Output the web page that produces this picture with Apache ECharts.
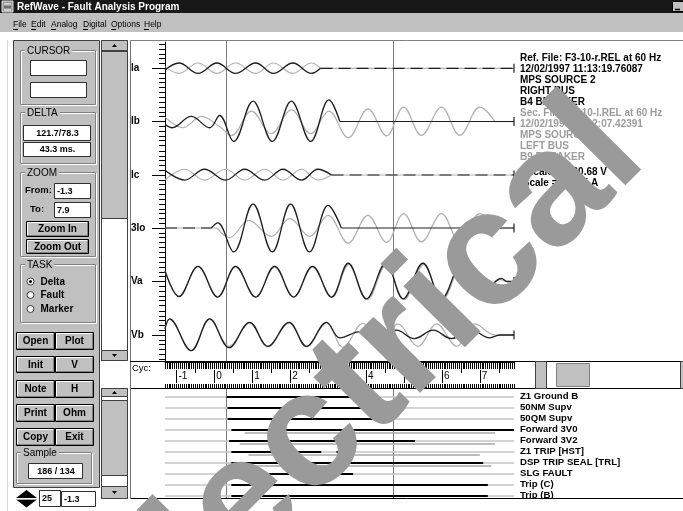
<!DOCTYPE html>
<html><head><meta charset="utf-8">
<script src="https://cdn.jsdelivr.net/npm/echarts@6/dist/echarts.min.js"></script>
<style>html,body{margin:0;padding:0;background:#fff;overflow:hidden}#c{width:683px;height:511px}</style>
</head><body><div id="c"></div>
<script>
// ---------------- DATA (x in cycles, y in channel scale units) ----------------
const cycleTicks = [-1, 0, 1, 2, 3, 4, 5, 6, 7];
const halfCycleTicks = [-0.5, 0.5, 1.5, 2.5, 3.5, 4.5, 5.5, 6.5, 7.5];
const channelNames = ['Ia', 'Ib', 'Ic', '3Io', 'Va', 'Vb'];
const cursorCycles = [0.32, 4.71];

const IaRef = [[-1.30,-0.07],[-0.93,0.22],[-0.43,-0.21],[0.07,0.22],[0.56,-0.21],[1.09,0.22],[1.56,-0.21],[2.07,0.22],[2.56,-0.21],[2.80,0]];
const IaSec = [[-1.30,0.07],[-0.93,-0.21],[-0.43,0.22],[0.07,-0.21],[0.56,0.22],[1.09,-0.21],[1.56,0.22],[2.07,-0.21],[2.56,0.22],[2.80,0]];
const IaRefFlat = [[2.80,0],[7.90,0]];
const IaSecFlat = [[2.80,0],[7.90,0]];

const IbRef = [[-1.30,-0.12],[-1.11,-0.26],[-0.61,0.21],[-0.12,-0.26],[0.14,0.25],[0.51,-0.83],[1.02,0.85],[1.53,-0.83],[2.03,0.85],[2.54,-0.83],[3.02,0.90],[3.31,0]];
const IbSec = [[-1.30,0.18],[-0.83,-0.26],[-0.34,0.21],[0.16,-0.24],[0.45,-0.58],[0.98,0.43],[1.50,-0.51],[2.03,0.49],[2.54,-0.51],[3.02,0.43],[3.53,-0.68],[4.05,0.53],[4.54,-0.60],[4.99,0.60],[5.46,-0.58],[5.99,0.60],[6.47,-0.58],[7.00,0.60],[7.40,0]];
const IbRefFlat = [[3.31,0],[7.90,0]];
const IbSecFlat = [[7.40,0],[7.90,0]];

const IcRef = [[-1.30,0.20],[-0.78,-0.21],[-0.26,0.24],[0.30,-0.21],[0.80,0.24],[1.33,-0.21],[1.81,0.24],[2.30,-0.21],[2.73,0.24],[3.09,0]];
const IcSec = [[-1.30,-0.20],[-0.78,0.24],[-0.26,-0.21],[0.30,0.24],[0.80,-0.21],[1.33,0.24],[1.81,-0.21],[2.30,0.24],[2.73,-0.21],[3.09,0]];
const IcRefFlat = [[3.09,0],[7.90,0]];
const IcSecFlat = [[3.09,0],[7.90,0]];

const Io3Ref = [[-0.08,0],[0.09,0.21],[0.51,-1.00],[1.02,1.00],[1.53,-1.00],[2.01,1.00],[2.51,-1.00],[3.00,0.94],[3.35,0]];
const Io3Sec = [[0.07,0],[0.40,-0.40],[0.91,0.32],[1.50,-0.35],[1.99,0.39],[2.51,-0.35],[3.00,0.53],[3.53,-0.63],[4.05,0.53],[4.54,-0.60],[4.99,0.60],[5.46,-0.58],[5.99,0.60],[6.47,-0.58],[7.00,0.60],[7.40,0]];
const Io3RefFlatPre = [[-1.30,0],[-0.08,0]];
const Io3RefFlat = [[3.35,0],[7.90,0]];
const Io3SecFlatPre = [[-1.30,0],[0.07,0]];
const Io3SecFlat = [[7.40,0],[7.90,0]];

const VaRef = [[-1.30,0.45],[-0.93,-0.63],[-0.43,0.63],[0.09,-0.65],[0.56,0.63],[1.09,-0.65],[1.59,0.63],[2.09,-0.65],[2.59,0.63],[3.09,-0.65],[3.53,0.76],[4.01,-0.72],[4.52,0.76],[4.98,-0.72],[5.50,0.76],[5.99,-0.72],[6.52,0.76],[7.00,-0.72],[7.57,0.13],[7.72,0],[7.90,0]];
const VaSec = [[-1.30,0.42],[-0.93,-0.62],[-0.43,0.62],[0.09,-0.63],[0.56,0.60],[1.09,-0.64],[1.59,0.60],[2.09,-0.64],[2.59,0.60],[3.09,-0.64],[3.55,0.70],[4.03,-0.76],[4.54,0.70],[5.00,-0.76],[5.52,0.70],[6.01,-0.76],[6.54,0.70],[7.02,-0.76],[7.52,0.10],[7.70,0],[7.90,0]];

const VbRef = [[-1.30,0.25],[-1.18,0.67],[-0.61,-0.65],[-0.12,0.67],[0.39,-0.53],[0.93,0.53],[1.41,-0.47],[1.97,0.53],[2.43,-0.47],[2.96,0.53],[3.31,-0.12],[3.85,0.14],[4.32,-0.12],[4.80,0.20],[5.27,-0.15],[5.77,0.20],[6.25,-0.15],[6.78,0.20],[7.26,-0.12],[7.53,0],[7.90,0]];
const VbSec = [[-1.30,0.30],[-1.18,0.65],[-0.61,-0.65],[-0.12,0.65],[0.39,-0.47],[0.93,0.50],[1.41,-0.50],[1.97,0.50],[2.43,-0.50],[2.96,0.50],[3.39,-0.51],[3.92,0.49],[4.41,-0.50],[4.84,0.46],[5.37,-0.47],[5.86,0.46],[6.39,-0.47],[6.87,0.46],[7.40,0],[7.90,0]];

const digitalNames = ['Z1 Ground B','50NM Supv','50QM Supv','Forward 3V0','Forward 3V2','Z1 TRIP [HST]','DSP TRIP SEAL [TRL]','SLG FAULT','Trip (C)','Trip (B)'];
// [start cycle, end cycle, row]
const digitalRefOn = [[0.32,3.66,0],[0.35,4.89,1],[0.35,4.18,2],[0.45,7.90,3],[0.39,5.29,4],[0.45,2.82,5],[3.22,3.66,5],[0.45,7.09,6],[0.45,3.66,7],[0.45,7.21,8],[0.45,7.21,9]];
const digitalSecOn = [[0.80,7.40,3],[0.67,7.40,4],[0.90,7.00,5],[0.85,7.30,6]];

const infoRef = ['Ref. File: F3-10-r.REL at 60 Hz','12/02/1997 11:13:19.76087','MPS SOURCE 2','RIGHT BUS','B4 BREAKER'];
const infoSec = ['Sec. File: F3-10-l.REL at 60 Hz','12/02/1997 11:12:07.42391','MPS SOURCE 1','LEFT BUS','B9 BREAKER'];
const infoScale = ['VScale =  160.68 V','IScale =  16.05 A'];

// ---------------- LAYOUT / STYLE ----------------
const FONT = '"Liberation Sans", Arial, Helvetica, sans-serif';
const X_MIN = -1.3, X_MAX = 7.9;
const PLOT_LEFT = 165, PLOT_W = 349;
const chanCenters = [68.3, 121.5, 175, 228, 281.5, 335];
const CH_HALF = 24;
const BLACK = '#1e1e1e', GRAY = '#b2b2b2';
const SMOOTH = 0.38;

const refWaves = [IaRef, IbRef, IcRef, Io3Ref, VaRef, VbRef];
const secWaves = [IaSec, IbSec, IcSec, Io3Sec, VaSec, VbSec];
const refFlats = [[[IaRefFlat,'dashed']],[[IbRefFlat,'solid']],[[IcRefFlat,'dashed']],[[Io3RefFlatPre,'dashed'],[Io3RefFlat,'solid']],[],[]];
const secFlats = [[IaSecFlat],[IbSecFlat],[IcSecFlat],[Io3SecFlatPre,Io3SecFlat],[],[]];

const grids = [], xAxes = [], yAxes = [], series = [];
const baseGrid = {outerBoundsMode:'none', containLabel:false};

channelNames.forEach((name, i) => {
  const c = chanCenters[i];
  grids.push(Object.assign({left: PLOT_LEFT, top: c - CH_HALF, width: PLOT_W, height: CH_HALF * 2}, baseGrid));
  xAxes.push({gridIndex: i, type: 'value', min: X_MIN, max: X_MAX, show: false});
  yAxes.push({gridIndex: i, type: 'value', position: 'left', min: -1, max: 1, interval: 0.2,
    axisLine: {show: true, onZero: false, lineStyle: {color: '#000', width: 1}},
    axisTick: {show: true, length: 6, lineStyle: {color: '#000', width: 1}},
    axisLabel: {show: false}, splitLine: {show: false}});
  yAxes.push({gridIndex: i, type: 'value', position: 'left', min: -1, max: 1,
    axisLine: {show: false, onZero: false},
    axisTick: {show: true, length: 13, customValues: [0], lineStyle: {color: '#000', width: 1}},
    axisLabel: {show: true, customValues: [0], formatter: () => name, margin: 34, align: 'left',
      verticalAlign: 'middle', fontFamily: FONT, fontWeight: 'bold', fontSize: 10, color: '#000'},
    splitLine: {show: false}});
  const yi = i * 2;
  const common = {type: 'line', xAxisIndex: i, yAxisIndex: yi, showSymbol: false, symbol: 'none', silent: true, animation: false};
  secFlats[i].forEach(d => series.push(Object.assign({}, common, {data: d, z: 2, lineStyle: {color: GRAY, width: 1.2}})));
  series.push(Object.assign({}, common, {data: secWaves[i], smooth: SMOOTH, z: 2, lineStyle: {color: GRAY, width: 1.2}}));
  refFlats[i].forEach(([d, t]) => series.push(Object.assign({}, common, {data: d, z: 3,
    lineStyle: {color: BLACK, width: 1.2, type: t === 'dashed' ? [12, 6] : 'solid'}})));
  series.push(Object.assign({}, common, {data: refWaves[i], smooth: SMOOTH, z: 3, lineStyle: {color: BLACK, width: 1.3}}));
  series.push({type: 'scatter', xAxisIndex: i, yAxisIndex: yi, data: [[X_MAX, 0]], symbol: 'rect',
    symbolSize: [1.3, 9], itemStyle: {color: '#000'}, silent: true, animation: false, z: 4});
});

// overlay grid for the waveform panel (main axis line + cursors)
grids.push(Object.assign({left: PLOT_LEFT, top: 42, width: PLOT_W, height: 319}, baseGrid)); // 6
xAxes.push({gridIndex: 6, type: 'value', min: X_MIN, max: X_MAX, show: false});
yAxes.push({gridIndex: 6, type: 'value', min: 0, max: 1, position: 'left',
  axisLine: {show: true, onZero: false, lineStyle: {color: '#000', width: 1}}, axisTick: {show: false},
  axisLabel: {show: false}, splitLine: {show: false}}); // 12
function cursorRender(params, api) {
  const x = Math.round(api.coord([api.value(0), 0])[0]) + 0.5;
  return {type: 'line', shape: {x1: x, y1: 41, x2: x, y2: 361},
    style: {stroke: '#7a7a7a', lineWidth: 1}};
}
series.push({type: 'custom', xAxisIndex: 6, yAxisIndex: 12, data: cursorCycles.map(v => [v, 0]),
  encode: {x: 0, y: 1}, renderItem: cursorRender, silent: true, animation: false, z: 1});

// ruler grid
grids.push(Object.assign({left: PLOT_LEFT, top: 362, width: PLOT_W, height: 26}, baseGrid)); // 7
const rulerBase = {gridIndex: 7, type: 'value', min: X_MIN, max: X_MAX, splitLine: {show: false}};
xAxes.push(Object.assign({}, rulerBase, {position: 'top', interval: 0.05,
  axisLine: {show: true, onZero: false, lineStyle: {color: '#000', width: 1}},
  axisTick: {show: true, inside: true, length: 7, lineStyle: {color: '#000', width: 1}},
  axisLabel: {show: false}})); // 7
xAxes.push(Object.assign({}, rulerBase, {position: 'bottom', interval: 0.05,
  axisLine: {show: true, onZero: false, lineStyle: {color: '#000', width: 1}},
  axisTick: {show: true, inside: true, length: 4, lineStyle: {color: '#000', width: 1}},
  axisLabel: {show: false}})); // 8
xAxes.push(Object.assign({}, rulerBase, {position: 'top', offset: -8,
  axisLine: {show: false, onZero: false},
  axisTick: {show: true, inside: true, length: 13, customValues: cycleTicks, lineStyle: {color: '#000', width: 1}},
  axisLabel: {show: true, inside: true, customValues: cycleTicks, margin: 1, align: 'left', verticalAlign: 'top',
    padding: [0, 0, 0, 2], fontFamily: FONT, fontSize: 10, color: '#000'}})); // 9
xAxes.push(Object.assign({}, rulerBase, {position: 'top', offset: -7,
  axisLine: {show: false, onZero: false},
  axisTick: {show: true, inside: true, length: 4, customValues: halfCycleTicks, lineStyle: {color: '#000', width: 1}},
  axisLabel: {show: false}})); // 10
yAxes.push({gridIndex: 7, type: 'value', min: 0, max: 1, show: false}); // 13

// digital grid
grids.push(Object.assign({left: PLOT_LEFT, top: 391.2, width: PLOT_W, height: 110}, baseGrid)); // 8
xAxes.push({gridIndex: 8, type: 'value', min: X_MIN, max: X_MAX, show: false}); // 11
yAxes.push({gridIndex: 8, type: 'category', data: digitalNames, inverse: true, position: 'right',
  axisLine: {show: false, onZero: false}, axisTick: {show: false}, splitLine: {show: false},
  axisLabel: {interval: 0, margin: 6, fontFamily: FONT, fontWeight: 'bold', fontSize: 9.6, color: '#000'}}); // 14
function segRender(color, width, dy) {
  return function (params, api) {
    const s = api.coord([api.value(0), api.value(2)]);
    const e = api.coord([api.value(1), api.value(2)]);
    const y = Math.round(s[1]) + dy;
    return {type: 'line', shape: {x1: s[0], y1: y, x2: e[0], y2: y}, style: {stroke: color, lineWidth: width}};
  };
}
series.push({type: 'custom', xAxisIndex: 11, yAxisIndex: 14, data: digitalNames.map((n, i) => [X_MIN, X_MAX, i]),
  encode: {x: [0, 1], y: 2}, renderItem: segRender('#c4c4c4', 1.6, 0), silent: true, animation: false, z: 2});
series.push({type: 'custom', xAxisIndex: 11, yAxisIndex: 14, data: digitalSecOn,
  encode: {x: [0, 1], y: 2}, renderItem: segRender('#a8a8a8', 1.4, 3), silent: true, animation: false, z: 2});
series.push({type: 'custom', xAxisIndex: 11, yAxisIndex: 14, data: digitalRefOn,
  encode: {x: [0, 1], y: 2}, renderItem: segRender('#000', 2, 0), silent: true, animation: false, z: 3});
function cursorRender2(params, api) {
  const x = Math.round(api.coord([api.value(0), 0])[0]) + 0.5;
  return {type: 'line', shape: {x1: x, y1: 388, x2: x, y2: 498}, style: {stroke: '#7a7a7a', lineWidth: 1}};
}
series.push({type: 'custom', xAxisIndex: 11, yAxisIndex: 14, data: cursorCycles.map(v => [v, 0]),
  encode: {x: 0, y: 1}, renderItem: cursorRender2, silent: true, animation: false, z: 1});

// ---------------- GUI chrome (graphic) ----------------
const G = [];
function rect(x, y, w, h, fill, stroke, z) { G.push({type: 'rect', shape: {x, y, width: w, height: h}, style: {fill: fill || 'none', stroke: stroke || 'none', lineWidth: 1}, z: z || 5, silent: true}); }
function line(x1, y1, x2, y2, stroke, z, w) { G.push({type: 'line', shape: {x1, y1, x2, y2}, style: {stroke, lineWidth: w || 1}, z: z || 6, silent: true}); }
function poly(pts, fill, z) { G.push({type: 'polygon', shape: {points: pts}, style: {fill}, z: z || 6, silent: true}); }
function txt(x, y, s, o) {
  o = o || {};
  const st = {text: s, fill: o.color || '#000', font: (o.weight || 'bold') + ' ' + (o.size || 9) + 'px ' + FONT,
    align: o.align || 'left', textAlign: o.align || 'left', verticalAlign: 'middle', textVerticalAlign: 'middle'};
  if (o.bg) { st.backgroundColor = o.bg; st.padding = o.pad || [0, 2]; }
  G.push({type: 'text', x, y, style: st, z: o.z || 7, silent: true});
}
function button(x, y, w, h, label) {
  rect(x + .5, y + .5, w, h, '#c0c0c0', '#000');
  line(x + 1.5, y + 1.5, x + w - 1, y + 1.5, '#fff'); line(x + 1.5, y + 1.5, x + 1.5, y + h - 1, '#fff');
  line(x + w - .5, y + 1.5, x + w - .5, y + h, '#808080'); line(x + 1.5, y + h - .5, x + w, y + h - .5, '#808080');
  txt(x + w / 2 + .5, y + h / 2 + 1, label, {align: 'center', size: 10});
}
function group(x, y, w, h, label) {
  rect(x + 1.5, y + 1.5, w, h, null, '#fff'); rect(x + .5, y + .5, w, h, null, '#808080');
  txt(x + 5, y + 1, label, {weight: 'normal', size: 10, bg: '#c0c0c0', pad: [0, 2]});
}
function input(x, y, w, h, val, align) {
  rect(x + .5, y + .5, w, h, '#fff', '#303030');
  txt(align === 'center' ? x + w / 2 + 1 : x + 3, y + h / 2 + 1, val, {align: align || 'left', size: 9});
}
function radio(x, y, checked, label) {
  G.push({type: 'circle', shape: {cx: x, cy: y, r: 3.5}, style: {fill: '#fff', stroke: '#404040'}, z: 6, silent: true});
  if (checked) G.push({type: 'circle', shape: {cx: x, cy: y, r: 1.5}, style: {fill: '#000'}, z: 7, silent: true});
  txt(x + 10, y + .5, label, {size: 10});
}
function vscroll(x, y, w, h, thumbY, thumbH, btnH1, btnH2) {
  rect(x + .5, y + .5, w, h, '#fff', '#404040');
  rect(x + .5, y + .5, w, btnH1, '#c0c0c0', '#404040');
  rect(x + .5, thumbY + .5, w, thumbH, '#c0c0c0', '#404040');
  rect(x + .5, y + h - btnH2 + .5, w, btnH2, '#c0c0c0', '#404040');
  const cx = x + w / 2 + .5;
  poly([[cx - 2.5, y + btnH1 / 2 + 2], [cx + 2.5, y + btnH1 / 2 + 2], [cx, y + btnH1 / 2 - 1]], '#000');
  const by = y + h - btnH2 / 2;
  poly([[cx - 2.5, by - 1], [cx + 2.5, by - 1], [cx, by + 2]], '#000');
}

// title & menu
rect(0, 0, 683, 13, '#181818', null, 5);
rect(2, 1, 11, 11, '#9a9a9a', '#e0e0e0', 6);
line(4, 4, 11, 4, '#fff', 7); line(4, 7, 11, 7, '#444', 7); line(4, 10, 11, 10, '#fff', 7);
txt(17, 7, 'RefWave - Fault Analysis Program', {color: '#fff', size: 10});
rect(672.5, 1.5, 11, 10, '#c0c0c0', '#000', 6);
line(675, 9.5, 680, 9.5, '#000', 7, 1.5);
rect(0, 13, 683, 19, '#c0c0c0', null, 5);
const menuItems = [['File', 13], ['Edit', 31], ['Analog', 51], ['Digital', 83], ['Options', 111], ['Help', 144]];
menuItems.forEach(([m, x]) => { txt(x, 24.5, m, {weight: 'normal', size: 8.5}); line(x, 29.5, x + 5, 29.5, '#000', 7); });
line(7.5, 40, 7.5, 511, '#d8d8d8', 4);

// left panel
rect(13.5, 40.5, 86, 447, '#c0c0c0', '#404040', 4);
group(20, 50, 75, 54, 'CURSOR');
input(30, 60, 56, 15, ''); input(30, 82, 56, 15, '');
group(20, 112, 75, 51, 'DELTA');
input(23, 125, 67, 15, '121.7/78.3', 'center'); input(23, 142, 67, 14, '43.3 ms.', 'center');
group(20, 172, 75, 84, 'ZOOM');
txt(25, 190.5, 'From:', {size: 9.5}); input(54, 183, 36, 15, '-1.3');
txt(30, 209.5, 'To:', {size: 9.5}); input(54, 202, 36, 15, '7.9');
button(26, 221, 62, 15, 'Zoom In'); button(26, 239, 62, 14, 'Zoom Out');
group(20, 264, 75, 58, 'TASK');
radio(30.5, 281.5, true, 'Delta'); radio(30.5, 295, false, 'Fault'); radio(30.5, 309, false, 'Marker');
const btnRows = [[332, 17, 'Open', 'Plot'], [356, 16, 'Init', 'V'], [380, 17, 'Note', 'H'], [404, 17, 'Print', 'Ohm'], [428, 17, 'Copy', 'Exit']];
btnRows.forEach(([y, h, a, b]) => { button(16, y, 38, h, a); button(55, y, 38, h, b); });
group(16, 452, 75, 31, 'Sample');
input(28, 463, 54, 15, '186 / 134', 'center');
// spin + boxes
poly([[16, 498], [37, 498], [26.5, 490]], '#000'); poly([[16, 499.5], [37, 499.5], [26.5, 507.5]], '#000');
line(16, 498.8, 37, 498.8, '#fff', 7);
input(39, 490, 21, 16, '25'); input(61, 491, 34, 15, '-1.3');
// scroll bars
vscroll(101, 40, 26, 320, 51, 167, 10, 10);
vscroll(101, 388, 26, 110, 400, 75, 8, 12);

// waveform / ruler / digital panels
line(130.5, 40, 130.5, 498, '#707070', 8);
line(130, 40.5, 683, 40.5, '#808080', 8);
line(130, 361.5, 683, 361.5, '#000', 8);
line(130, 388.5, 683, 388.5, '#000', 8);
txt(132, 368.5, 'Cyc:', {weight: 'normal', size: 9.5});
// horizontal scrollbar in the ruler row
line(535.5, 362, 535.5, 388, '#000', 8);
rect(535.5, 361.5, 11, 27, '#c0c0c0', '#404040', 8);
poly([[539, 375], [542, 372], [542, 378]], '#000');
rect(556.5, 363.5, 33, 23, '#c0c0c0', '#808080', 8);
rect(680.5, 361.5, 10, 27, '#c0c0c0', '#404040', 8);
// clip bottom of digital panel
rect(129, 499, 560, 12, '#fff', null, 50);
line(130, 498.5, 683, 498.5, '#000', 51);
line(130.5, 388, 130.5, 499, '#707070', 51);

// info text
infoRef.forEach((s, i) => txt(520, 58.5 + i * 11, s, {size: 10}));
infoSec.forEach((s, i) => txt(520, 113.5 + i * 11, s, {size: 10, color: '#9c9c9c'}));
infoScale.forEach((s, i) => txt(520, 172.5 + i * 11, s, {size: 10}));

// watermark
G.push({type: 'text', x: 367, y: 382, rotation: 0.79, z: 100, silent: true,
  style: {text: 'electrical', fill: '#9a9a9a', font: 'bold 164px ' + FONT, align: 'center', textAlign: 'center',
    verticalAlign: 'middle', textVerticalAlign: 'middle'}});

const chart = echarts.init(document.getElementById('c'));
chart.setOption({
  animation: false,
  backgroundColor: '#fff',
  textStyle: {fontFamily: FONT},
  grid: grids, xAxis: xAxes, yAxis: yAxes, series: series,
  graphic: {elements: G}
});
</script></body></html>
